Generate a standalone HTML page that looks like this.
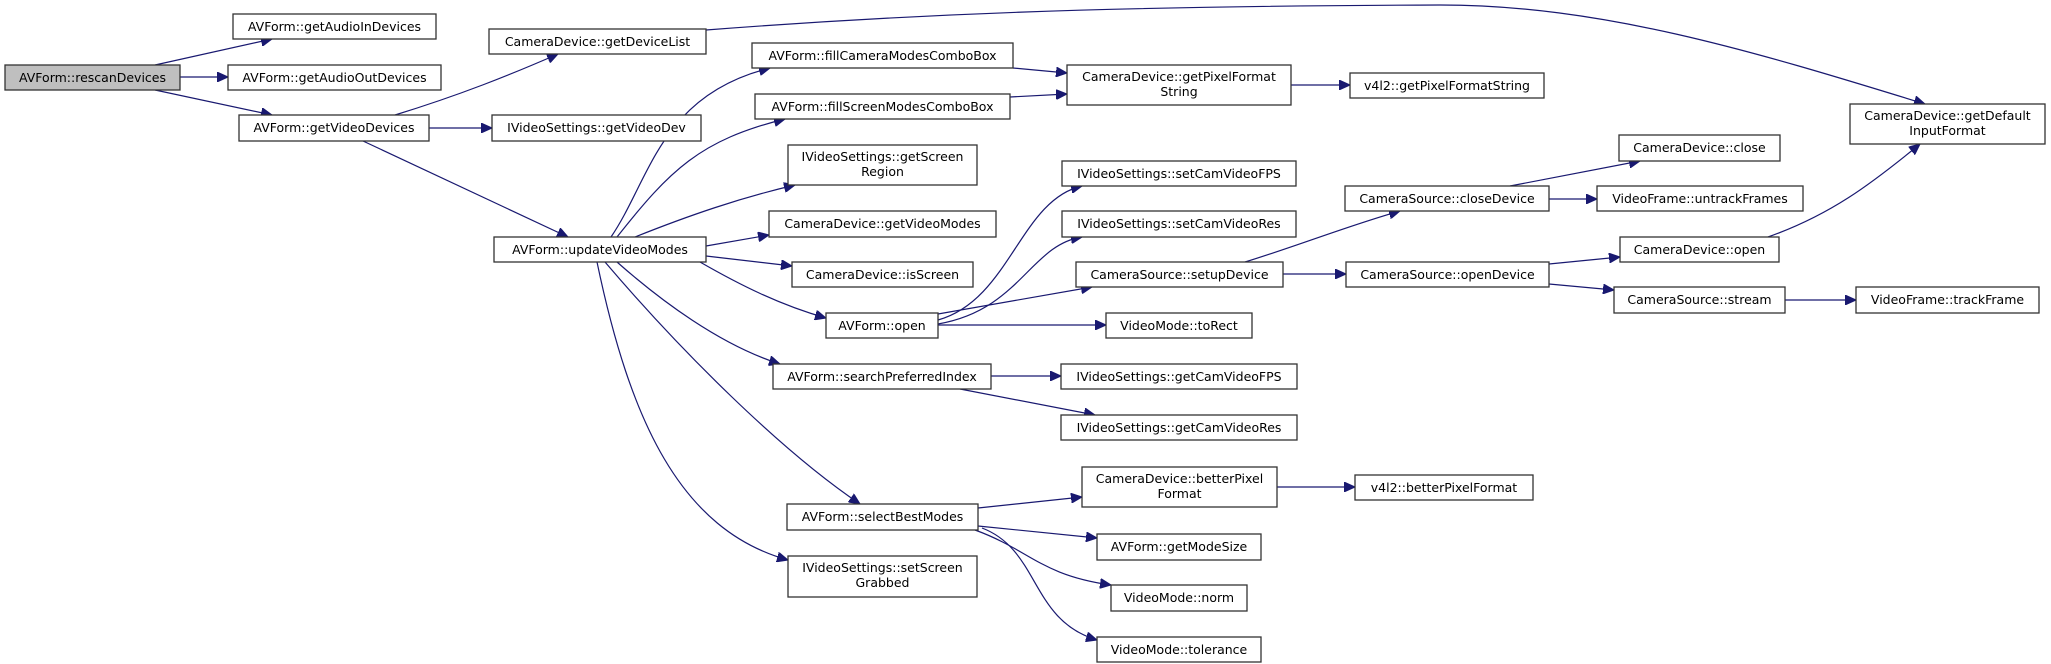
<!DOCTYPE html>
<html><head><meta charset="utf-8"><style>
html,body{margin:0;padding:0;background:#fff;}
svg{display:block;}
text{font-family:"DejaVu Sans","Liberation Sans",sans-serif;font-size:12.5px;fill:#000;}
rect{fill:#fff;stroke:#333;stroke-width:1.3;}
path{fill:none;stroke:#191970;stroke-width:1.2;}
</style></head><body>
<svg width="2051" height="664" viewBox="0 0 2051 664" xmlns="http://www.w3.org/2000/svg">
<defs><marker id="a" markerUnits="userSpaceOnUse" markerWidth="12" markerHeight="10" refX="11" refY="5" orient="auto"><path d="M0,0 L11,5 L0,10 Z" style="fill:#191970;stroke:#191970;stroke-width:1"/></marker></defs>
<g marker-end="url(#a)">
<path d="M155,65 L272,39"/>
<path d="M180,77 L228,77"/>
<path d="M155,90 L272,115"/>
<path d="M395,115 C460,95 510,75 558,54"/>
<path d="M429,128 L492,128"/>
<path d="M363,141 L568,237"/>
<path d="M706,30 C900,15 1100,6 1440,5 C1600,5 1750,50 1925,104"/>
<path d="M611,237 C650,180 660,95 770,68"/>
<path d="M617,237 C670,170 700,140 785,119"/>
<path d="M635,237 C690,215 740,198 795,185"/>
<path d="M706,246 L769,235"/>
<path d="M706,256 L792,266"/>
<path d="M700,262 C740,285 780,305 826,318"/>
<path d="M617,262 C660,300 720,345 780,364"/>
<path d="M605,262 C680,350 780,450 860,504"/>
<path d="M597,262 C630,420 680,530 788,560"/>
<path d="M1013,68 L1067,73"/>
<path d="M1010,97 L1067,94"/>
<path d="M1291,85 L1350,85"/>
<path d="M938,320 C1010,300 1020,200 1082,186"/>
<path d="M938,324 C1020,310 1030,245 1082,237"/>
<path d="M938,314 L1092,287"/>
<path d="M938,325 L1106,325"/>
<path d="M1245,262 C1300,245 1350,225 1400,211"/>
<path d="M1283,274 L1346,274"/>
<path d="M1510,186 L1640,161"/>
<path d="M1549,199 L1597,199"/>
<path d="M1549,264 L1620,257"/>
<path d="M1549,284 L1614,290"/>
<path d="M1768,237 C1830,215 1870,185 1920,144"/>
<path d="M1785,300 L1856,300"/>
<path d="M991,376 L1061,376"/>
<path d="M960,389 L1095,415"/>
<path d="M978,508 L1082,497"/>
<path d="M1277,487 L1355,487"/>
<path d="M978,526 L1097,538"/>
<path d="M975,530 C1030,550 1040,575 1111,585"/>
<path d="M982,528 C1040,550 1030,620 1097,640"/>
</g>
<g>
<rect x="5" y="65" width="175" height="25" style="fill:#bfbfbf"/><text x="92.5" y="82" text-anchor="middle">AVForm::rescanDevices</text>
<rect x="233" y="14" width="203" height="25"/><text x="334.5" y="31" text-anchor="middle">AVForm::getAudioInDevices</text>
<rect x="228" y="65" width="213" height="25"/><text x="334.5" y="82" text-anchor="middle">AVForm::getAudioOutDevices</text>
<rect x="239" y="115" width="190" height="26"/><text x="334" y="132" text-anchor="middle">AVForm::getVideoDevices</text>
<rect x="489" y="29" width="217" height="25"/><text x="597.5" y="46" text-anchor="middle">CameraDevice::getDeviceList</text>
<rect x="492" y="115" width="209" height="26"/><text x="596.5" y="132" text-anchor="middle">IVideoSettings::getVideoDev</text>
<rect x="494" y="237" width="212" height="25"/><text x="600" y="254" text-anchor="middle">AVForm::updateVideoModes</text>
<rect x="752" y="43" width="261" height="25"/><text x="882.5" y="60" text-anchor="middle">AVForm::fillCameraModesComboBox</text>
<rect x="755" y="94" width="255" height="25"/><text x="882.5" y="111" text-anchor="middle">AVForm::fillScreenModesComboBox</text>
<rect x="1067" y="65" width="224" height="40"/><text x="1179" y="81" text-anchor="middle">CameraDevice::getPixelFormat</text><text x="1179" y="96" text-anchor="middle">String</text>
<rect x="1350" y="73" width="194" height="25"/><text x="1447" y="90" text-anchor="middle">v4l2::getPixelFormatString</text>
<rect x="788" y="145" width="189" height="40"/><text x="882.5" y="161" text-anchor="middle">IVideoSettings::getScreen</text><text x="882.5" y="176" text-anchor="middle">Region</text>
<rect x="1062" y="161" width="234" height="25"/><text x="1179" y="178" text-anchor="middle">IVideoSettings::setCamVideoFPS</text>
<rect x="769" y="211" width="227" height="26"/><text x="882.5" y="228" text-anchor="middle">CameraDevice::getVideoModes</text>
<rect x="1062" y="211" width="234" height="26"/><text x="1179" y="228" text-anchor="middle">IVideoSettings::setCamVideoRes</text>
<rect x="1345" y="186" width="204" height="25"/><text x="1447" y="203" text-anchor="middle">CameraSource::closeDevice</text>
<rect x="792" y="262" width="181" height="25"/><text x="882.5" y="279" text-anchor="middle">CameraDevice::isScreen</text>
<rect x="1076" y="262" width="207" height="25"/><text x="1179.5" y="279" text-anchor="middle">CameraSource::setupDevice</text>
<rect x="1346" y="262" width="203" height="25"/><text x="1447.5" y="279" text-anchor="middle">CameraSource::openDevice</text>
<rect x="826" y="313" width="112" height="25"/><text x="882" y="330" text-anchor="middle">AVForm::open</text>
<rect x="1106" y="313" width="146" height="25"/><text x="1179" y="330" text-anchor="middle">VideoMode::toRect</text>
<rect x="1850" y="104" width="195" height="40"/><text x="1947.5" y="120" text-anchor="middle">CameraDevice::getDefault</text><text x="1947.5" y="135" text-anchor="middle">InputFormat</text>
<rect x="1619" y="135" width="161" height="26"/><text x="1699.5" y="152" text-anchor="middle">CameraDevice::close</text>
<rect x="1597" y="186" width="206" height="25"/><text x="1700" y="203" text-anchor="middle">VideoFrame::untrackFrames</text>
<rect x="1620" y="237" width="159" height="25"/><text x="1699.5" y="254" text-anchor="middle">CameraDevice::open</text>
<rect x="1614" y="287" width="171" height="26"/><text x="1699.5" y="304" text-anchor="middle">CameraSource::stream</text>
<rect x="1856" y="287" width="183" height="26"/><text x="1947.5" y="304" text-anchor="middle">VideoFrame::trackFrame</text>
<rect x="773" y="364" width="218" height="25"/><text x="882" y="381" text-anchor="middle">AVForm::searchPreferredIndex</text>
<rect x="1061" y="364" width="236" height="25"/><text x="1179" y="381" text-anchor="middle">IVideoSettings::getCamVideoFPS</text>
<rect x="1061" y="415" width="236" height="25"/><text x="1179" y="432" text-anchor="middle">IVideoSettings::getCamVideoRes</text>
<rect x="1082" y="467" width="195" height="40"/><text x="1179.5" y="483" text-anchor="middle">CameraDevice::betterPixel</text><text x="1179.5" y="498" text-anchor="middle">Format</text>
<rect x="1355" y="475" width="178" height="25"/><text x="1444" y="492" text-anchor="middle">v4l2::betterPixelFormat</text>
<rect x="787" y="504" width="191" height="26"/><text x="882.5" y="521" text-anchor="middle">AVForm::selectBestModes</text>
<rect x="1097" y="534" width="164" height="26"/><text x="1179" y="551" text-anchor="middle">AVForm::getModeSize</text>
<rect x="788" y="556" width="189" height="41"/><text x="882.5" y="572" text-anchor="middle">IVideoSettings::setScreen</text><text x="882.5" y="587" text-anchor="middle">Grabbed</text>
<rect x="1111" y="585" width="136" height="26"/><text x="1179" y="602" text-anchor="middle">VideoMode::norm</text>
<rect x="1097" y="637" width="164" height="25"/><text x="1179" y="654" text-anchor="middle">VideoMode::tolerance</text>
</g>
</svg>
</body></html>
